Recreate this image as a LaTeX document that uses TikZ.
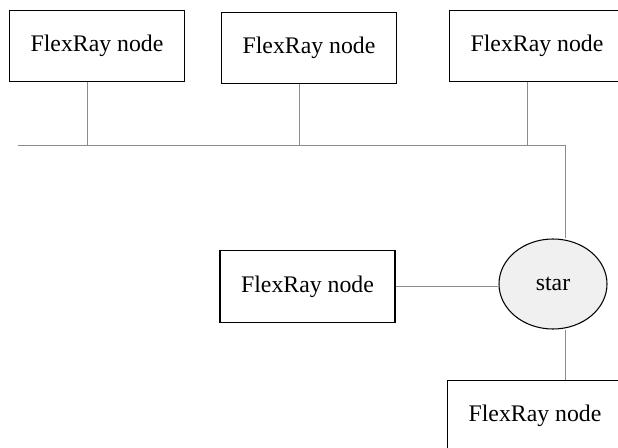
\documentclass[tikz,border=0pt]{standalone}
\usepackage{fontspec}
\setmainfont{Liberation Serif}
\usepackage{tikz}
\usetikzlibrary{calc,shapes.geometric}
\definecolor{busgray}{RGB}{140,140,140}
\definecolor{starfill}{RGB}{240,240,240}

\begin{document}
\begin{tikzpicture}[x=0.03cm,y=-0.03cm,
		frnode/.style={draw=black,line width=0.9pt,minimum width=5.25cm,minimum height=2.15cm,inner sep=0pt,font=\fontsize{20.3}{24}\selectfont},
		starnode/.style={ellipse,draw=black,line width=0.9pt,fill=starfill,minimum width=3.24cm,minimum height=2.7cm,inner sep=0pt,font=\fontsize{20.3}{24}\selectfont},
		bus/.style={draw=busgray,line width=0.8pt}]
						\useasboundingbox (0,0) rectangle (618,447);
						\clip (0,0) rectangle (618,447);
						
						\node (top1) at (97,46) [frnode] {FlexRay node};
						\node (top2) at (309,48) [frnode] {FlexRay node};
						\node (top3) at (537,46) [frnode] {FlexRay node};
						\node (left) at (307.5,286.5) [frnode] {FlexRay node};
						\node (star) at (553,284) [starnode] {star};
						\node (bottom) at (535,416) [frnode] {FlexRay node};
						
						\coordinate (busL) at (18,145);
						\coordinate (busR) at (565,145);
						\coordinate (drop1) at (87,145);
						\coordinate (drop2) at (299,145);
						\coordinate (drop3) at (527,145);
						
						\draw[bus] (busL) -- (busR) -- (busR |- star.north);
						\draw[bus] (drop1 |- top1.south) -- (drop1);
						\draw[bus] (drop2 |- top2.south) -- (drop2);
						\draw[bus] (drop3 |- top3.south) -- (drop3);
						\draw[bus] (left.east) -- (star.west |- left.east);
						\draw[bus] (busR |- star.south) -- (busR |- bottom.north);
					\end{tikzpicture}
\end{document}
